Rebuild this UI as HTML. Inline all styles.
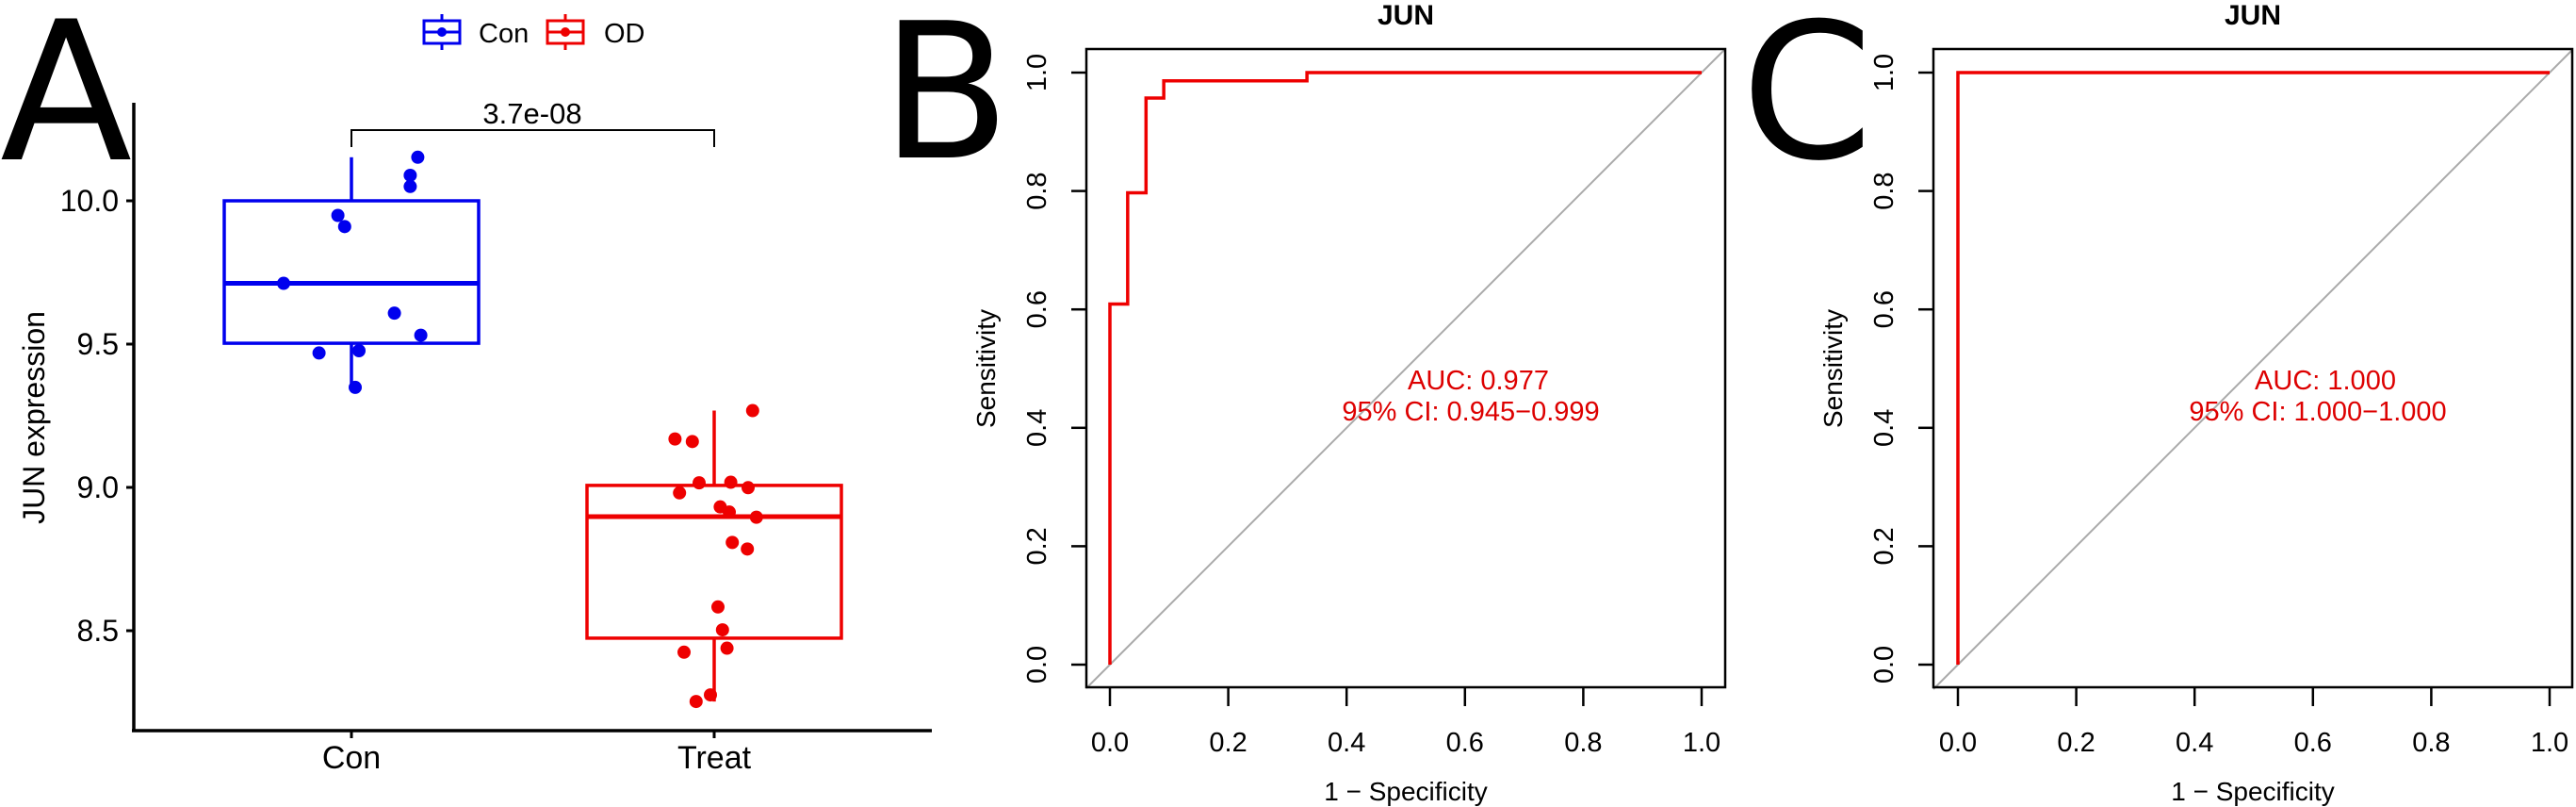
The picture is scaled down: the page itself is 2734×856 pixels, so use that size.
<!DOCTYPE html>
<html><head><meta charset="utf-8">
<style>
html,body{margin:0;padding:0;background:#fff;}
svg{display:block;}
text{font-family:"Liberation Sans",Arial,sans-serif;}
</style></head>
<body>
<svg id="fig" width="2734" height="856" viewBox="0 0 2734 856" xmlns="http://www.w3.org/2000/svg">
<rect x="0" y="0" width="2734" height="856" fill="#fff"/>
<text x="0" y="169" font-size="205" style="font-family:'DejaVu Sans','Liberation Sans',sans-serif">A</text>
<text x="935" y="167" font-size="200" style="font-family:'DejaVu Sans','Liberation Sans',sans-serif">B</text>
<text x="1848" y="167" font-size="200" style="font-family:'DejaVu Sans','Liberation Sans',sans-serif">C</text>
<g id="pa"></g>
<g id="pb"></g>
<g id="pc"></g>
</svg>
<script>
// ---- Panel A data ----
const groups = ["Con", "Treat"];
const groupColors = ["#0000ee", "#ee0000"];
const yTicksA = [8.5, 9.0, 9.5, 10.0];
const yTickLabelsA = ["8.5", "9.0", "9.5", "10.0"];
const conValues = [10.152,10.089,10.050,9.949,9.910,9.712,9.608,9.531,9.469,9.477,9.349];
const conJitter = [0.88,0.78,0.78,-0.18,-0.09,-0.90,0.57,0.92,-0.43,0.10,0.05];
const treatValues = [9.268,9.169,9.160,9.016,9.018,8.999,8.981,8.932,8.914,8.896,8.808,8.785,8.583,8.503,8.425,8.439,8.276,8.253];
const treatJitter = [0.51,-0.52,-0.29,-0.20,0.22,0.45,-0.46,0.08,0.20,0.56,0.24,0.44,0.05,0.11,-0.40,0.17,-0.05,-0.24];
const conStats = [9.35, 9.503, 9.712, 10.0, 10.152];   // min, q1, median, q3, max
const treatStats = [8.253, 8.474, 8.898, 9.007, 9.268];
const pLabel = "3.7e-08";

// ---- ROC data ----
const rocTicks = [0, 0.2, 0.4, 0.6, 0.8, 1.0];
const rocTickLabels = ["0.0","0.2","0.4","0.6","0.8","1.0"];
const rocB_fpr = [0, 0, 0.030, 0.030, 0.061, 0.061, 0.091, 0.091, 0.333, 0.333, 1];
const rocB_tpr = [0, 0.609, 0.609, 0.797, 0.797, 0.957, 0.957, 0.986, 0.986, 1, 1];
const rocC_fpr = [0, 0, 1];
const rocC_tpr = [0, 1, 1];
const aucB = ["AUC: 0.977", "95% CI: 0.945\u22120.999"];
const aucC = ["AUC: 1.000", "95% CI: 1.000\u22121.000"];

const NS = "http://www.w3.org/2000/svg";
function mk(parent, tag, attrs, txt){
  const e = document.createElementNS(NS, tag);
  for (const k in attrs) e.setAttribute(k, attrs[k]);
  if (txt !== undefined) e.textContent = txt;
  parent.appendChild(e);
  return e;
}

// ---- Panel A ----
(function(){
  const g = document.getElementById('pa');
  const yA = v => 213 + (10 - v) * 304;
  const xA = i => 373 + i * 385;
  const halfW = 135;
  let e;
  // axes
  e = mk(g,'line',{x1:142,y1:109,x2:142,y2:776,stroke:'#000','stroke-width':3.5});
   
  e = mk(g,'line',{x1:140,y1:775,x2:989,y2:775,stroke:'#000','stroke-width':3.5});
   
  yTicksA.forEach((v,i)=>{
    e = mk(g,'line',{x1:134,y1:yA(v),x2:142,y2:yA(v),stroke:'#000','stroke-width':3});
     
    e = mk(g,'text',{x:126,y:yA(v)+11,'font-size':32,'text-anchor':'end',fill:'#000'},yTickLabelsA[i]);
     
  });
  groups.forEach((name,i)=>{
    e = mk(g,'line',{x1:xA(i),y1:775,x2:xA(i),y2:783,stroke:'#000','stroke-width':3});
     
    e = mk(g,'text',{x:xA(i),y:815,'font-size':34,'text-anchor':'middle',fill:'#000'},name);
     
  });
  e = mk(g,'text',{x:0,y:0,'font-size':32,'text-anchor':'middle',fill:'#000',transform:'translate(47,443) rotate(-90)'},'JUN expression');
   

  const stats = [conStats, treatStats];
  const vals = [conValues, treatValues];
  const jit = [conJitter, treatJitter];
  stats.forEach((s,i)=>{
    const c = groupColors[i], cx = xA(i);
    e = mk(g,'line',{x1:cx,y1:yA(s[4]),x2:cx,y2:yA(s[3]),stroke:c,'stroke-width':3.5});
     
    e = mk(g,'line',{x1:cx,y1:yA(s[1]),x2:cx,y2:yA(s[0]),stroke:c,'stroke-width':3.5});
     
    e = mk(g,'rect',{x:cx-halfW,y:yA(s[3]),width:halfW*2,height:yA(s[1])-yA(s[3]),fill:'none',stroke:c,'stroke-width':3.5});
     
    e = mk(g,'line',{x1:cx-halfW,y1:yA(s[2]),x2:cx+halfW,y2:yA(s[2]),stroke:c,'stroke-width':5});
     
    vals[i].forEach((v,j)=>{
      e = mk(g,'circle',{cx:cx+jit[i][j]*80,cy:yA(v),r:7,fill:c});
       
    });
  });
  // significance bracket
  e = mk(g,'path',{d:`M${xA(0)},156 V138 H${xA(1)} V156`,fill:'none',stroke:'#000','stroke-width':2});
   
  e = mk(g,'text',{x:565,y:131,'font-size':31,'text-anchor':'middle',fill:'#000'},pLabel);
   
  // legend
  const legX = [450, 581], legTx = [508, 641], legNames = ["Con","OD"];
  legX.forEach((lx,i)=>{
    const c = groupColors[i];
    const lg = mk(g,'g',{});
     
    mk(lg,'line',{x1:lx+19,y1:15,x2:lx+19,y2:53,stroke:c,'stroke-width':3});
    mk(lg,'rect',{x:lx,y:22,width:38,height:24,fill:'#fff',stroke:c,'stroke-width':3});
    mk(lg,'line',{x1:lx,y1:34,x2:lx+38,y2:34,stroke:c,'stroke-width':3});
    mk(lg,'circle',{cx:lx+19,cy:34,r:5,fill:c});
    mk(lg,'text',{x:legTx[i],y:45,'font-size':29,fill:'#000'},legNames[i]);
  });
})();

// ---- ROC panels ----
function drawROC(gid, left, right, x0, fpr, tpr, auc, cx){
  const g = document.getElementById(gid);
  const xR = v => x0 + v * 628;
  const yR = v => 705 - v * 628;
  const top = 52, bot = 729;
  let e;
  e = mk(g,'text',{x:(left+right)/2,y:26,'font-size':30,'font-weight':'bold','text-anchor':'middle',fill:'#000'},'JUN');
   
  // diagonal reference
  e = mk(g,'line',{x1:left,y1:yR((x0-left)/-628*-1 * -1 + 0) ,x2:right,y2:top,stroke:'#aaaaaa','stroke-width':2});
  e.setAttribute('x1', left); e.setAttribute('y1', yR((left - x0)/628));
  e.setAttribute('x2', right); e.setAttribute('y2', yR((right - x0)/628));
   
  // ROC curve
  let d = fpr.map((f,i)=>(i?'L':'M')+xR(f)+','+yR(tpr[i])).join(' ');
  e = mk(g,'path',{d:d,fill:'none',stroke:'#ee0000','stroke-width':3.5});
   
  e = mk(g,'rect',{x:left,y:top,width:right-left,height:bot-top,fill:'none',stroke:'#000','stroke-width':2.5});
   
  rocTicks.forEach((v,i)=>{
    e = mk(g,'line',{x1:xR(v),y1:bot,x2:xR(v),y2:bot+20,stroke:'#000','stroke-width':2.5});
     
    e = mk(g,'text',{x:xR(v),y:797,'font-size':29,'text-anchor':'middle',fill:'#000'},rocTickLabels[i]);
     
    e = mk(g,'line',{x1:left-16,y1:yR(v),x2:left,y2:yR(v),stroke:'#000','stroke-width':2.5});
     
    e = mk(g,'text',{x:0,y:0,'font-size':29,'text-anchor':'middle',fill:'#000',transform:`translate(${left-43},${yR(v)}) rotate(-90)`},rocTickLabels[i]);
     
  });
  e = mk(g,'text',{x:(left+right)/2,y:849,'font-size':28,'text-anchor':'middle',fill:'#000'},'1 \u2212 Specificity');
   
  e = mk(g,'text',{x:0,y:0,'font-size':28,'text-anchor':'middle',fill:'#000',transform:`translate(${left-97},391) rotate(-90)`},'Sensitivity');
   
  e = mk(g,'text',{x:cx+8,y:413,'font-size':29,'text-anchor':'middle',fill:'#dd0000'},auc[0]);
   
  e = mk(g,'text',{x:cx,y:446,'font-size':29,'text-anchor':'middle',fill:'#dd0000'},auc[1]);
   
}
drawROC('pb', 1153, 1831, 1178, rocB_fpr, rocB_tpr, aucB, 1561);
drawROC('pc', 2052, 2730, 2078, rocC_fpr, rocC_tpr, aucC, 2460);
</script>
</body></html>
